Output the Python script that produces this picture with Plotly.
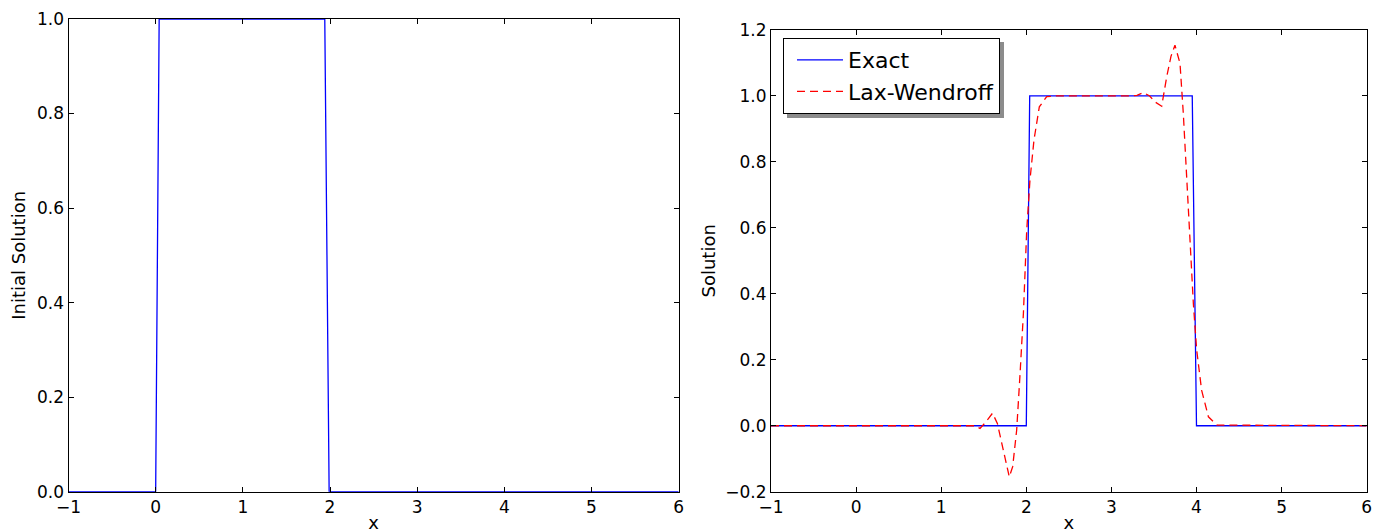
import plotly.graph_objects as go

W, H = 1384, 529
OFF = 8  # page offset of the figure (body margin)

# ---- data ----
x_init = [-1.0, 0.0, 0.04, 1.94, 1.99, 6.0]
u_init = [0, 0, 1, 1, 0, 0]

x_exact = [-1.0, 2.0, 2.04, 3.95, 4.0, 6.0]
u_exact = [0, 0, 1, 1, 0, 0]

x_lw = [-1.0, 1.40, 1.456, 1.52, 1.603, 1.66, 1.73, 1.80, 1.84, 1.887, 1.927,
        1.966, 2.005, 2.043, 2.09, 2.153, 2.24, 2.35, 3.20, 3.30, 3.375, 3.45,
        3.512, 3.591, 3.65, 3.70, 3.747, 3.806, 3.845, 3.885, 3.924, 3.963,
        4.002, 4.06, 4.14, 4.24, 6.0]
u_lw = [0, 0, -0.008, 0.01, 0.038, 0.007, -0.074, -0.155, -0.124, -0.013, 0.159,
        0.341, 0.593, 0.745, 0.866, 0.967, 0.998, 1.0, 1.0, 1.002, 1.01, 1.0,
        0.982, 0.969, 1.058, 1.12, 1.154, 1.099, 0.947, 0.755, 0.553, 0.371,
        0.230, 0.108, 0.027, 0.002, 0]

x_ticks = [-1, 0, 1, 2, 3, 4, 5, 6]
y_ticks_left = [0.0, 0.2, 0.4, 0.6, 0.8, 1.0]
y_ticks_right = [-0.2, 0.0, 0.2, 0.4, 0.6, 0.8, 1.0, 1.2]

def px_x(p):
    return (p - OFF) / W

def px_y(p):
    return 1 - (p - OFF) / H

fig = go.Figure()

fig.add_trace(go.Scatter(x=x_init, y=u_init, mode="lines",
                         line=dict(color="#0000ff", width=1.3),
                         xaxis="x", yaxis="y", showlegend=False))
fig.add_trace(go.Scatter(x=x_exact, y=u_exact, mode="lines", name="Exact",
                         line=dict(color="#0000ff", width=1.3),
                         xaxis="x2", yaxis="y2"))
fig.add_trace(go.Scatter(x=x_lw, y=u_lw, mode="lines", name="Lax-Wendroff",
                         line=dict(color="#ff0000", width=1.3, dash="8px,5px"),
                         xaxis="x2", yaxis="y2"))

axis_common = dict(showline=True, linecolor="black", linewidth=1, mirror="ticks",
                   ticks="inside", ticklen=5, tickwidth=1, tickcolor="black",
                   showgrid=False, zeroline=False, automargin=False,
                   tickfont=dict(size=17, color="black"))

fig.update_layout(
    width=W, height=H,
    margin=dict(l=0, r=0, t=0, b=0, pad=0, autoexpand=False),
    paper_bgcolor="white", plot_bgcolor="white",
    font=dict(family="DejaVu Sans", color="black"),
    xaxis=dict(domain=[px_x(68.5), px_x(678.7)], range=[-1, 6],
               tickvals=x_ticks, anchor="y",
               title=dict(text="x", font=dict(size=18), standoff=0),
               **axis_common),
    yaxis=dict(domain=[px_y(491.7), px_y(19)], range=[0, 1],
               tickvals=y_ticks_left, tickformat=".1f", anchor="x",
               title=dict(text="Initial Solution", font=dict(size=18), standoff=7),
               **axis_common),
    xaxis2=dict(domain=[px_x(771), px_x(1366.7)], range=[-1, 6],
                tickvals=x_ticks, anchor="y2",
                title=dict(text="x", font=dict(size=18), standoff=0),
                **axis_common),
    yaxis2=dict(domain=[px_y(491.7), px_y(30)], range=[-0.2, 1.2],
                tickvals=y_ticks_right, tickformat=".1f", anchor="x2",
                title=dict(text="Solution", font=dict(size=18), standoff=5),
                **axis_common),
    legend=dict(x=px_x(783), y=px_y(38), xanchor="left", yanchor="top",
                bgcolor="white", bordercolor="black", borderwidth=1,
                font=dict(size=22, color="black"), itemwidth=46, indentation=8,
                tracegroupgap=0),
    shapes=[dict(type="rect", xref="paper", yref="paper",
                 x0=px_x(787), x1=px_x(1004), y0=px_y(118), y1=px_y(42),
                 fillcolor="#8c8c8c", line=dict(width=0), layer="above")],
)

fig.write_html("out.html")
